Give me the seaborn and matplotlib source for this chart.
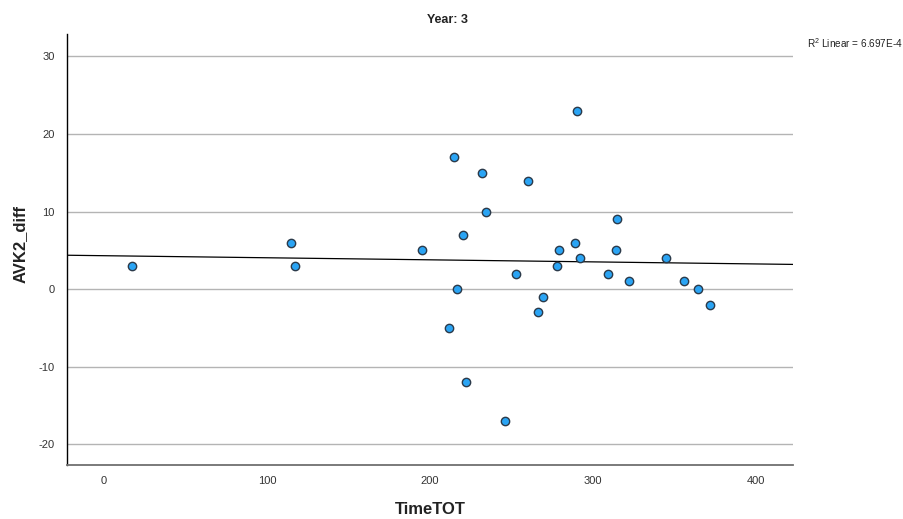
import numpy as np
import pandas as pd
import seaborn as sns
import matplotlib.pyplot as plt

# ── Data ──────────────────────────────────────────────────────────────────────
time_tot = [17, 114.9, 117, 194.9, 211.8, 214.9, 216.4, 220.1, 222.1, 232.1,
            234.2, 246, 253, 259.9, 266.1, 269.1, 278.1, 279.3, 289.1, 290,
            292, 309, 314.1, 314.9, 322.1, 345, 356, 364.2, 372]
avk2_diff = [3, 6, 3, 5, -5, 17, 0, 7, -12, 15,
             10, -17, 2, 14, -3, -1, 3, 5, 6, 23,
             4, 2, 5, 9, 1, 4, 1, 0, -2]
x_ticks = [0, 100, 200, 300, 400]
y_ticks = [-20, -10, 0, 10, 20, 30]
title = "Year: 3"
r2_label = r"R$^2$ Linear = 6.697E-4"

df = pd.DataFrame({"TimeTOT": time_tot, "AVK2_diff": avk2_diff})

# ── Style ─────────────────────────────────────────────────────────────────────
sns.set_style("white")
plt.rcParams['font.family'] = ['Liberation Sans', 'DejaVu Sans']
plt.rcParams['mathtext.fontset'] = 'custom'
plt.rcParams['mathtext.rm'] = 'Liberation Sans'
plt.rcParams['axes.unicode_minus'] = False

W, H = 904, 519
fig = plt.figure(figsize=(W / 100, H / 100), dpi=100)
ax = fig.add_axes([67 / W, 1 - 465 / H, (793 - 67) / W, (465 - 34) / H])

xlim = (-22.7, 422.7)
ylim = (-22.7, 32.9)
ax.set_xlim(*xlim)
ax.set_ylim(*ylim)

# gridlines only at y ticks
for yv in y_ticks:
    ax.axhline(yv, color='#b4b4b4', lw=1.0, zorder=0)

# ── Fit line + points ─────────────────────────────────────────────────────────
sns.regplot(data=df, x="TimeTOT", y="AVK2_diff", ax=ax, scatter=False,
            ci=None, truncate=False,
            line_kws=dict(color='black', lw=0.9, zorder=2))
sns.scatterplot(data=df, x="TimeTOT", y="AVK2_diff", ax=ax,
                color='#2aa4f4', edgecolor='#2b3a4a', linewidth=1.0,
                s=36, zorder=3)
ax.set_xlim(*xlim)
ax.set_ylim(*ylim)

# ── Axes cosmetics ────────────────────────────────────────────────────────────
ax.set_xticks(x_ticks)
ax.set_yticks(y_ticks)
ax.tick_params(axis='both', length=0, labelsize=8, labelcolor='#333333')
ax.tick_params(axis='x', pad=8)
ax.tick_params(axis='y', pad=9)
for side in ['top', 'right']:
    ax.spines[side].set_visible(False)
ax.spines['left'].set_color('black')
ax.spines['left'].set_linewidth(1.0)
ax.spines['bottom'].set_color('#707070')
ax.spines['bottom'].set_linewidth(1.3)
ax.set_xlabel("")
ax.set_ylabel("")

# labels placed in figure pixels to match the reference
fig.text(430 / W, 1 - 509 / H, "TimeTOT", fontsize=12, fontweight='bold',
         color='#222222', ha='center', va='center')
fig.text(20 / W, 1 - 244 / H, "AVK2_diff", fontsize=12, fontweight='bold',
         color='#222222', ha='center', va='center', rotation=90)
fig.text(448 / W, 1 - 20 / H, title, fontsize=9, fontweight='bold',
         color='#222222', ha='center', va='center')
fig.text(807 / W, 1 - 43 / H, r2_label, fontsize=7.2, color='#222222',
         ha='left', va='center')

fig.savefig("out.png", dpi=100)
